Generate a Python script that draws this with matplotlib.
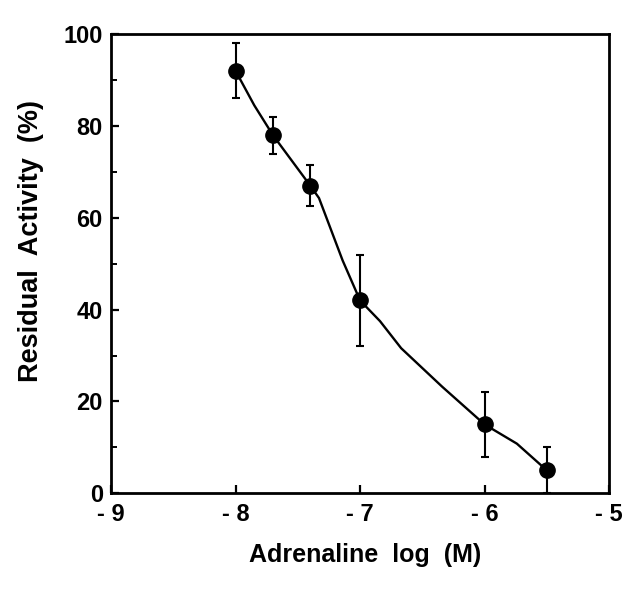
import matplotlib
matplotlib.use("Agg")
import matplotlib.pyplot as plt

# Data
conc_log = [-8.0, -7.7, -7.4, -7.0, -6.0, -5.5]
activity = [92, 78, 67, 42, 15, 5]
sem = [6, 4, 4.5, 10, 7, 5]

# Fitted curve
curve_x = [-8.0, -7.85, -7.7, -7.55, -7.4, -7.33, -7.14, -7.0, -6.84, -6.67, -6.34, -6.0, -5.74, -5.5]
curve_y = [92, 84.5, 78, 72.5, 67, 64.3, 50.7, 42, 37.5, 31.6, 23.2, 15, 10.8, 5]

x_ticks = [-9, -8, -7, -6, -5]
x_tick_labels = ["- 9", "- 8", "- 7", "- 6", "- 5"]
y_ticks = [0, 20, 40, 60, 80, 100]
y_minor = [10, 30, 50, 70, 90]

plt.rcParams['font.family'] = ['Liberation Sans', 'DejaVu Sans']
plt.rcParams['font.weight'] = 'bold'

fig = plt.figure(figsize=(6.39, 5.90), dpi=100)
ax = fig.add_axes([0.174, 0.164, 0.779, 0.778])

ax.plot(curve_x, curve_y, color='black', lw=1.7, zorder=2)
ax.errorbar(conc_log, activity, yerr=sem, fmt='o', color='black',
            markersize=11, elinewidth=1.5, capsize=3, capthick=1.5, zorder=3)

ax.set_xlim(-9, -5)
ax.set_ylim(0, 100)
ax.set_xticks(x_ticks)
ax.set_xticklabels(x_tick_labels)
ax.set_yticks(y_ticks)
ax.set_yticks(y_minor, minor=True)

for s in ax.spines.values():
    s.set_linewidth(2.0)

ax.tick_params(axis='both', which='major', direction='in', length=6, width=1.6,
               labelsize=17)
ax.tick_params(axis='y', which='major', pad=6)
ax.tick_params(axis='y', which='minor', direction='in', length=4, width=1.4)
ax.tick_params(axis='x', which='major', pad=7)

ax.set_xlabel("Adrenaline  log  (M)", fontsize=18, fontweight='bold')
ax.set_ylabel("Residual  Activity  (%)", fontsize=19.5, fontweight='bold')
ax.xaxis.set_label_coords(0.51, -0.108)
ax.yaxis.set_label_coords(-0.135, 0.55)

fig.savefig("out.png", dpi=100)
